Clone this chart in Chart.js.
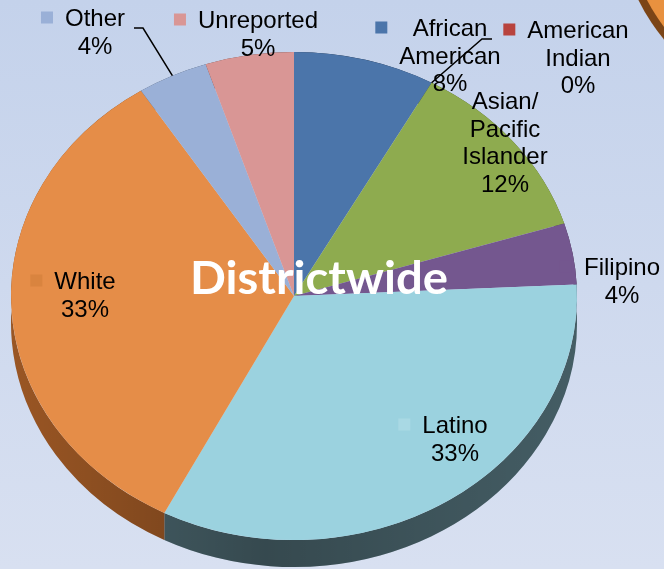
<!DOCTYPE html>
<html>
<head>
<meta charset="utf-8">
<script src="https://cdn.jsdelivr.net/npm/chart.js@4.4.1/dist/chart.umd.min.js"></script>
<style>
  html, body { margin: 0; padding: 0; width: 664px; height: 569px; overflow: hidden; }
  body { position: relative; background: linear-gradient(#c4d2eb, #d8e0f1); }
  #wrap { position: absolute; left: 0; top: 0; width: 664px; height: 600px; }
  /* edge of the neighbouring pie peeking in at the top right */
  .corner { position: absolute; left: 624px; top: -293px; width: 400px; height: 400px; border-radius: 50%;
            background: #e8913f; box-shadow: -6px 5px 0 #7b4517; }
</style>
</head>
<body>
<div class="corner"></div>
<div id="wrap"><canvas id="pie" width="664" height="600"></canvas></div>
<script>
'use strict';

// Student ethnicity, percent of enrolment (districtwide)
const categories = ['African American', 'American Indian', 'Asian/Pacific Islander', 'Filipino', 'Latino', 'White', 'Other', 'Unreported'];
const shares = [8, 0, 12, 4, 33, 33, 4, 5];
// how each name wraps inside its data label
const labelLines = [
  ['African', 'American'],
  ['American', 'Indian'],
  ['Asian/', 'Pacific', 'Islander'],
  ['Filipino'],
  ['Latino'],
  ['White'],
  ['Other'],
  ['Unreported'],
];

const topColors = ['#4b75aa', '#b8433e', '#8eab4f', '#74578f', '#9bd2df', '#e58d48', '#9ab0d7', '#d99695'];
const sideColors = ['#2c4466', '#6e2725', '#55672f', '#463456', '#4a656d', '#9a5624', '#5c6a82', '#825a59'];
const keyColors = ['#4b75aa', '#b8433e', '#8eab4f', '#74578f', '#a9d9e4', '#d9843f', '#9ab0d7', '#d99695'];

// Label placement (centre x, first baseline), legend key, optional leader line start
const LABEL_LAYOUT = [
  { x: 450, y: 36, key: true },
  { x: 578, y: 38, key: true, leader: [[492, 39], [482, 39]] },
  { x: 505, y: 109, key: false },
  { x: 622, y: 275, key: true },
  { x: 455, y: 433, key: true },
  { x: 85, y: 289, key: true },
  { x: 95, y: 26, key: true, leader: [[134, 28], [143, 28]] },
  { x: 258, y: 28, key: true },
];

const TILT = 244 / 283;   // vertical squash of the disc
const DEPTH = 27;         // thickness of the disc on screen
const LINE_H = 27.5;
const LABEL_FONT = '24px "Liberation Sans", Arial, sans-serif';

// Point on the top rim for a Chart.js arc angle
function rimPoint(arc, angle) {
  return {
    x: arc.x + arc.outerRadius * Math.cos(angle),
    y: arc.y + arc.outerRadius * Math.sin(angle) * TILT,
  };
}

const pie3d = {
  id: 'pie3d',
  beforeDatasetsDraw(chart) {
    const ctx = chart.ctx;
    const arcs = chart.getDatasetMeta(0).data;
    const { x, y, outerRadius: r } = arcs[0];
    ctx.save();
    ctx.translate(x, y);
    ctx.scale(1, TILT);
    ctx.translate(-x, -y);

    // side wall: band between the rim and the rim pushed down
    const d = DEPTH / TILT;
    const shade = ctx.createLinearGradient(x - r, 0, x + r, 0);
    shade.addColorStop(0, 'rgba(0,0,0,0)');
    shade.addColorStop(0.45, 'rgba(0,0,0,0.28)');
    shade.addColorStop(1, 'rgba(0,0,0,0.08)');
    arcs.forEach((arc, i) => {
      if (arc.endAngle - arc.startAngle <= 0) return;
      ctx.beginPath();
      ctx.arc(x, y, r, arc.startAngle, arc.endAngle);
      ctx.arc(x, y + d, r, arc.endAngle, arc.startAngle, true);
      ctx.closePath();
      ctx.fillStyle = sideColors[i];
      ctx.fill();
      ctx.fillStyle = shade;
      ctx.fill();
    });
  },
  afterDatasetsDraw(chart) {
    chart.ctx.restore();
  },
  afterDraw(chart) {
    const ctx = chart.ctx;
    const arcs = chart.getDatasetMeta(0).data;
    ctx.save();
    ctx.font = LABEL_FONT;
    ctx.textAlign = 'center';
    ctx.textBaseline = 'alphabetic';

    LABEL_LAYOUT.forEach((lay, i) => {
      const lines = [...labelLines[i], `${shares[i]}%`];
      ctx.fillStyle = '#000';
      lines.forEach((t, j) => ctx.fillText(t, lay.x, lay.y + j * LINE_H));

      if (lay.key) {
        const w = Math.max(...lines.map((t) => ctx.measureText(t).width));
        ctx.fillStyle = keyColors[i];
        ctx.fillRect(lay.x - w / 2 - 12 - 12, lay.y - 8.5 - 6, 12, 12);
      }

      if (lay.leader) {
        const arc = arcs[i];
        const end = rimPoint(arc, (arc.startAngle + arc.endAngle) / 2);
        ctx.beginPath();
        ctx.moveTo(lay.leader[0][0], lay.leader[0][1]);
        lay.leader.slice(1).forEach((p) => ctx.lineTo(p[0], p[1]));
        ctx.lineTo(end.x, end.y);
        ctx.strokeStyle = '#000';
        ctx.lineWidth = 1.5;
        ctx.stroke();
      }
    });

    // chart title sits on the pie
    const title = 'Districtwide';
    ctx.font = 'bold 45px Lato, "Open Sans", sans-serif';
    const tw = ctx.measureText(title).width;
    ctx.translate(319, 294);
    ctx.scale(258 / tw, 1);
    ctx.fillStyle = '#fff';
    ctx.fillText(title, 0, 0);
    ctx.restore();
  },
};

new Chart(document.getElementById('pie'), {
  type: 'pie',
  data: {
    labels: categories,
    datasets: [{
      data: shares,
      backgroundColor: topColors,
      borderWidth: 0,
      hoverOffset: 0,
      offset: 0,
      clip: false,
    }],
  },
  options: {
    responsive: false,
    animation: false,
    events: [],
    layout: { padding: { left: 11, right: 87, top: 13, bottom: 21 } },
    plugins: {
      legend: { display: false },
      tooltip: { enabled: false },
    },
  },
  plugins: [pie3d],
});
</script>
</body>
</html>
